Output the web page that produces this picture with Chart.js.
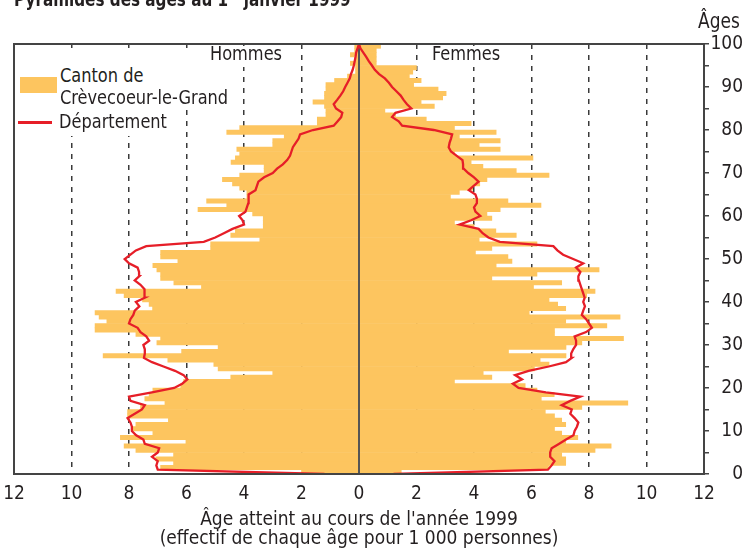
<!DOCTYPE html>
<html lang="fr">
<head>
<meta charset="utf-8">
<title>Pyramide des âges au 1er janvier 1999</title>
<script src="https://cdn.jsdelivr.net/npm/chart.js@4.4.1/dist/chart.umd.min.js"></script>
<style>
  html, body { margin:0; padding:0; background:#fff; }
  #wrap { position:relative; width:743px; height:551px; overflow:hidden; }
  #c { position:absolute; left:0; top:0; }
  .txt { position:absolute; font-family:"DejaVu Sans Condensed","Liberation Sans Narrow",sans-serif; font-size:20px; line-height:21px; color:#231f20; white-space:nowrap; transform:scaleX(0.9); transform-origin:left top; }
  .mask { position:absolute; background:#fff; }
</style>
</head>
<body>
<div id="wrap">
  <canvas id="c" width="743" height="551"></canvas>
  <div class="txt" style="left:14px;top:-10px;font-weight:bold;font-size:19px;line-height:19px;transform:scaleX(0.89);">Pyramides des âges au 1<sup style="font-size:11px;line-height:0;vertical-align:8px;">er</sup> janvier 1999</div>
  <div class="txt" style="left:698px;top:11px;font-size:21px;">Âges</div>
  <div class="mask" style="left:16px;top:48px;width:226px;height:60px;"></div>
  <div class="mask" style="left:16px;top:108px;width:158px;height:28px;"></div>
  <div class="mask" style="left:205px;top:46px;width:86px;height:21px;"></div>
  <div class="mask" style="left:426px;top:46px;width:80px;height:21px;"></div>
  <div style="position:absolute;left:20px;top:77px;width:37px;height:16px;background:#FDC55F;"></div>
  <div style="position:absolute;left:18px;top:121px;width:34px;height:2.5px;background:#E61E28;"></div>
  <div class="txt" style="left:60px;top:65px;">Canton de</div>
  <div class="txt" style="left:60px;top:87px;">Crèvecoeur-le-Grand</div>
  <div class="txt" style="left:59px;top:111px;">Département</div>
  <div class="txt" style="left:210px;top:43px;">Hommes</div>
  <div class="txt" style="left:432px;top:43px;">Femmes</div>
</div>
<script>
const FONT = '"DejaVu Sans Condensed", "Liberation Sans Narrow", sans-serif';

// Ages of the bars (age reached in 1999)
const agesBars = [0,1,2,3,4,5,6,7,8,9,10,11,12,13,14,15,16,17,18,19,20,21,22,23,24,25,26,27,28,29,30,31,32,33,34,35,36,37,38,39,40,41,42,43,44,45,46,47,48,49,50,51,52,53,54,55,56,57,58,59,60,61,62,63,64,65,66,67,68,69,70,71,72,73,74,75,76,77,78,79,80,81,82,83,84,85,86,87,88,89,90,91,92,93,94,95,96,97,98,99];
// Ages of the Département line points
const agesLine = [0,1,2,3,4,5,6,7,8,9,10,11,12,13,14,15,16,17,18,19,20,21,22,23,24,25,26,27,28,29,30,31,32,33,34,35,36,37,38,39,40,41,42,43,44,45,46,47,48,49,50,51,52,53,54,55,56,57,58,59,60,61,62,63,64,65,66,67,68,69,70,71,72,73,74,75,76,77,78,79,80,81,82,83,84,85,86,87,88,89,90,91,92,93,94,95,96,97,98,99,100];

// Canton de Crèvecoeur-le-Grand (per 1 000 persons)
const hommesCanton = [2.0,6.9,6.45,7.07,6.45,7.76,8.17,6.02,8.3,7.17,
 7.9,7.76,6.63,8.05,8.05,7.6,6.75,7.45,7.3,7.17,
 6.2,6.1,4.46,3.0,4.9,5.05,6.65,8.9,6.17,4.9,
 7.03,6.9,7.76,9.18,9.18,8.77,9.04,9.18,7.18,7.3,
 7.53,8.17,8.45,5.48,6.44,6.9,6.9,7.03,7.17,6.3,
 6.9,6.9,5.16,5.16,3.45,4.46,4.3,3.33,3.33,3.33,
 3.7,5.6,4.6,5.3,3.9,3.9,4.15,4.4,4.75,4.15,
 3.3,3.3,4.45,4.3,4.15,4.25,3.0,3.0,2.6,4.6,
 4.15,1.45,1.45,1.15,1.15,1.2,1.6,1.2,1.2,1.15,
 1.15,0.85,0.4,0.12,0.12,0.3,0.15,0.3,0.15,0.15];
const femmesCanton = [1.47,6.59,7.19,7.19,7.05,8.21,8.77,7.19,7.61,7.05,
 6.8,7.19,7.05,6.8,6.48,7.75,9.35,6.34,6.79,6.19,
 5.78,3.32,4.62,4.32,6.1,6.61,6.3,7.2,5.2,7.2,
 7.75,9.2,6.8,6.8,8.62,7.19,9.08,5.92,7.19,6.91,
 6.61,7.92,8.21,6.07,7.05,4.62,6.19,8.35,4.77,5.32,
 5.18,4.05,4.62,6.19,4.18,5.47,4.76,4.0,3.32,4.62,
 4.45,4.91,6.33,5.18,3.18,3.49,3.95,4.2,4.45,6.61,
 5.47,4.31,3.9,6.05,3.32,4.91,4.18,4.91,3.49,4.77,
 3.32,3.9,2.34,1.27,0.9,2.62,2.16,2.91,3.03,2.75,
 1.9,2.16,1.75,1.87,2.0,0.6,0.6,0.6,0.6,0.75];

// Département (per 1 000 persons)
const hommesDept = [1.2,7.0,7.05,7.0,7.2,7.0,6.95,7.45,7.5,7.75,
 7.9,7.9,7.95,8.05,7.8,7.55,7.45,7.95,8.0,7.2,
 6.43,6.15,5.97,6.1,6.4,6.8,7.2,7.48,7.45,7.45,
 7.5,7.3,7.4,7.6,7.7,8.0,7.95,7.85,7.8,7.64,
 7.76,7.45,7.45,7.47,7.6,7.8,7.64,7.65,7.7,8.0,
 8.15,7.95,7.76,7.4,5.4,5.0,4.7,4.4,4.0,4.05,
 4.17,3.95,3.9,3.85,3.85,3.83,3.6,3.55,3.5,3.3,
 3.0,2.85,2.65,2.5,2.4,2.35,2.3,2.2,2.1,2.05,
 1.6,0.88,0.75,0.62,0.58,0.8,0.88,0.76,0.65,0.55,
 0.48,0.4,0.32,0.28,0.22,0.18,0.15,0.12,0.1,0.05,
 0];
const femmesDept = [1.2,6.57,6.7,6.8,6.65,6.65,6.7,6.95,7.2,7.46,
 7.5,7.58,7.63,7.5,7.35,7.4,7.05,7.35,7.7,6.5,
 5.55,5.35,5.67,5.43,5.9,6.6,7.2,7.4,7.38,7.45,
 7.55,7.55,7.5,7.9,8.1,8.0,7.9,7.75,7.8,7.86,
 7.8,7.85,7.8,7.75,7.7,7.65,7.63,7.7,7.55,7.8,
 7.45,7.1,6.9,6.76,4.9,4.5,4.3,4.16,3.5,3.9,
 4.22,4.05,4.0,4.1,4.1,4.05,3.82,3.99,4.16,4.0,
 3.8,3.64,3.62,3.6,3.4,3.2,3.12,3.15,3.2,3.24,
 2.6,1.5,1.38,1.15,1.27,1.82,1.67,1.55,1.45,1.3,
 1.15,1.04,0.9,0.7,0.55,0.45,0.34,0.25,0.15,0.05,
 0];

// Axis ticks
const xTickValues = [-12,-10,-8,-6,-4,-2,0,2,4,6,8,10,12];
const xTickLabels = ['12','10','8','6','4','2','0','2','4','6','8','10','12'];
const yTickLabels = [0,10,20,30,40,50,60,70,80,90,100];

const COL_BAR = '#FDC55F';
const COL_LINE = '#E61E28';

let centerDrawn = false;
const framePlugin = {
  id: 'frame',
  beforeDatasetsDraw() { centerDrawn = false; },
  beforeDatasetDraw(chart, args) {
    if (args.meta.type === 'line' && !centerDrawn) {
      const {ctx, chartArea: a, scales: {x}} = chart;
      const x0 = x.getPixelForValue(0);
      ctx.save();
      ctx.strokeStyle = '#555';
      ctx.lineWidth = 2;
      ctx.beginPath(); ctx.moveTo(x0, a.top); ctx.lineTo(x0, a.bottom); ctx.stroke();
      ctx.restore();
      centerDrawn = true;
    }
  },
  afterDatasetsDraw(chart) {
    const {ctx, chartArea: a} = chart;
    ctx.save();
    ctx.strokeStyle = '#444';
    ctx.lineWidth = 2;
    ctx.strokeRect(a.left, a.top, a.right - a.left, a.bottom - a.top);
    ctx.restore();
  }
};

new Chart(document.getElementById('c'), {
  type: 'bar',
  data: {
    datasets: [
      { type: 'line', label: 'Département (hommes)', indexAxis: 'y',
        data: hommesDept.map((v, i) => ({ x: -v, y: agesLine[i] })),
        borderColor: COL_LINE, borderWidth: 2.3, pointRadius: 0, fill: false, tension: 0, order: 0 },
      { type: 'line', label: 'Département (femmes)', indexAxis: 'y',
        data: femmesDept.map((v, i) => ({ x: v, y: agesLine[i] })),
        borderColor: COL_LINE, borderWidth: 2.3, pointRadius: 0, fill: false, tension: 0, order: 0 },
      { type: 'bar', label: 'Canton de Crèvecoeur-le-Grand (hommes)',
        data: hommesCanton.map((v, i) => ({ x: -v, y: agesBars[i] + 0.5 })),
        backgroundColor: COL_BAR, order: 1 },
      { type: 'bar', label: 'Canton de Crèvecoeur-le-Grand (femmes)',
        data: femmesCanton.map((v, i) => ({ x: v, y: agesBars[i] + 0.5 })),
        backgroundColor: COL_BAR, order: 1 }
    ]
  },
  options: {
    responsive: false,
    animation: false,
    indexAxis: 'y',
    layout: { padding: { top: 44, left: 14, right: 0, bottom: 0 } },
    plugins: { legend: { display: false }, tooltip: { enabled: false } },
    datasets: { bar: { grouped: false, barPercentage: 1, categoryPercentage: 1, borderWidth: 0 } },
    scales: {
      x: {
        type: 'linear', min: -12, max: 12,
        afterFit: s => { s.height = 77; s.paddingLeft = 0; s.paddingRight = 0; },
        afterBuildTicks: s => { s.ticks = xTickValues.map(v => ({ value: v })); },
        ticks: {
          autoSkip: false, maxRotation: 0, padding: 9, color: '#231f20',
          font: { family: FONT, size: 19 },
          callback: v => xTickLabels[xTickValues.indexOf(v)]
        },
        grid: {
          drawTicks: false, lineWidth: 1.5,
          color: c => (c.tick && (c.tick.value === 0 || Math.abs(c.tick.value) === 12)) ? 'rgba(0,0,0,0)' : '#3a3a3a'
        },
        border: { display: false, dash: [5, 6] },
        title: {
          display: true,
          text: ['Âge atteint au cours de l\'année 1999', '(effectif de chaque âge pour 1 000 personnes)'],
          color: '#231f20', font: { family: FONT, size: 19, lineHeight: 1.0 }, padding: { top: 2, bottom: 2 }
        }
      },
      y: {
        type: 'linear', position: 'right', min: 0, max: 100, offset: false,
        afterFit: s => { s.width = 39; },
        ticks: {
          stepSize: 5, autoSkip: false, crossAlign: 'far', padding: -1, color: '#231f20',
          font: { family: FONT, size: 19 },
          callback: v => yTickLabels.includes(v) ? String(v) : ''
        },
        grid: { drawOnChartArea: false, drawTicks: true, tickLength: 5, color: '#444', lineWidth: 1.5, offset: false },
        border: { display: false }
      }
    }
  },
  plugins: [framePlugin]
});
</script>
</body>
</html>
